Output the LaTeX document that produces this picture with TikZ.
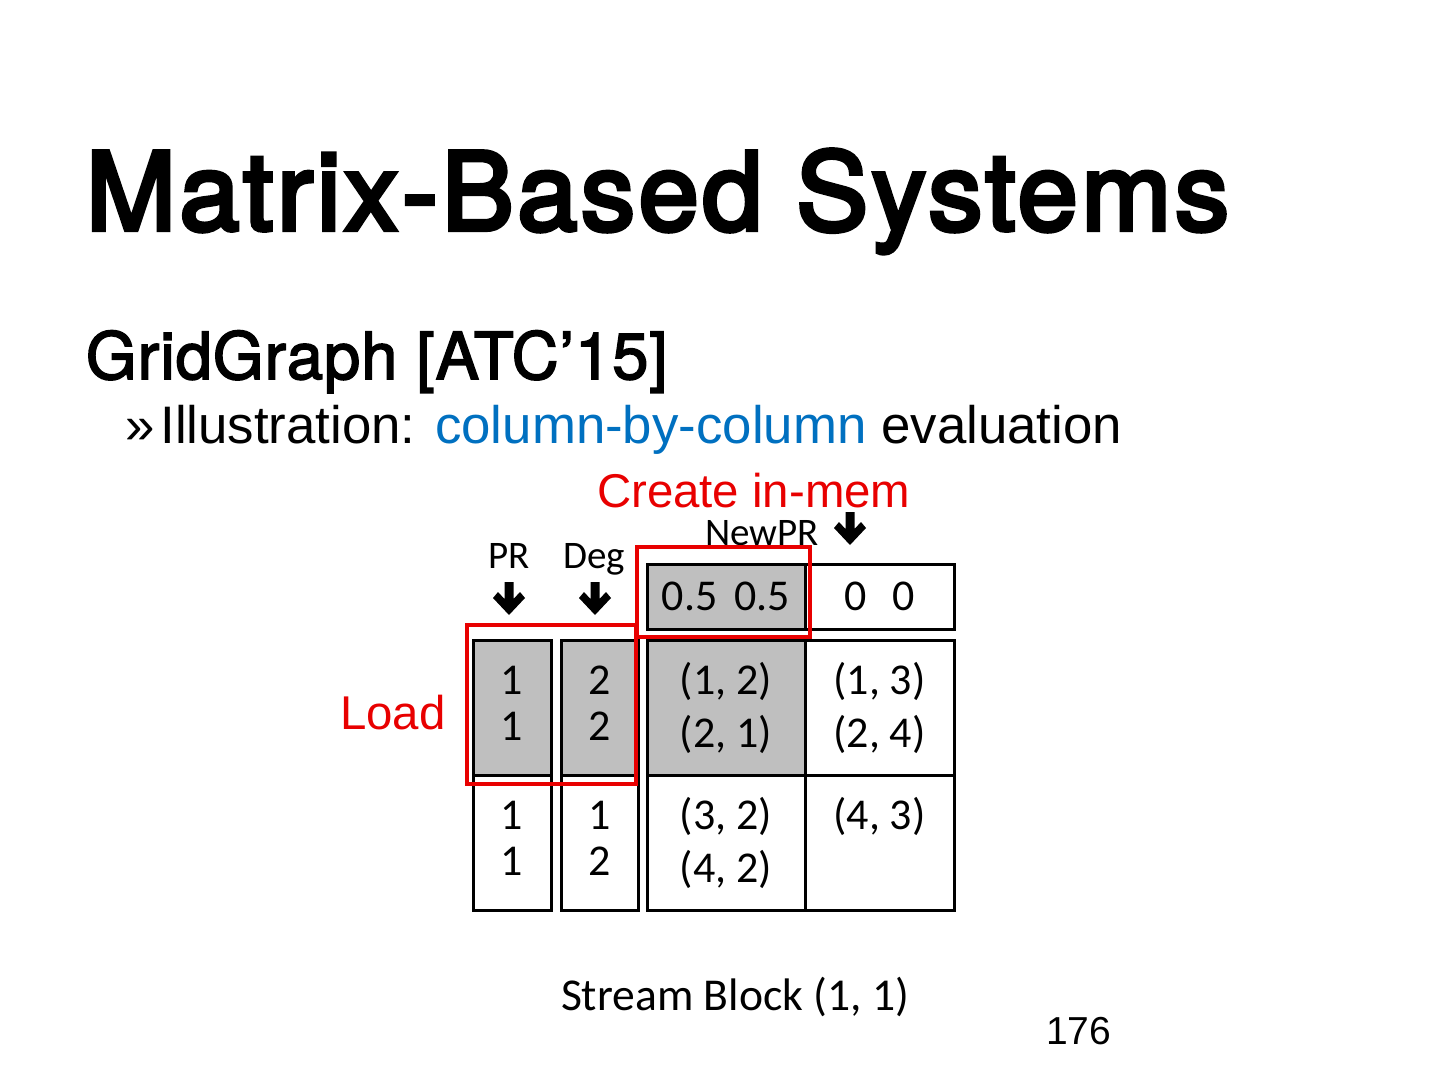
\documentclass[tikz,border=0pt]{standalone}
\usepackage{fontspec}
\setmainfont{Liberation Sans}
\newfontfamily\titlefont[FakeBold=4,LetterSpace=3.4]{TeX Gyre Heros}
\newfontfamily\subfont[FakeBold=2.5,LetterSpace=1.6]{TeX Gyre Heros}
\newfontfamily\calfont{Carlito}
\definecolor{slidered}{RGB}{232,0,0}
\definecolor{slideblue}{RGB}{0,112,192}
\definecolor{cellgray}{RGB}{191,191,191}
\tikzset{
  fatdown/.pic={\fill[black] (-4.5,0) -- (4.5,0) -- (4.5,17) -- (11,10) -- (16,16) -- (0,33) -- (-16,16) -- (-11,10) -- (-4.5,17) -- cycle;},
}
\begin{document}
\begin{tikzpicture}[x=0.5pt,y=-0.5pt,
  every node/.style={inner sep=0pt,outer sep=0pt},
  cell/.style={draw=black,line width=1.5pt,anchor=north west,align=center},
  vcol/.style={cell,minimum width=39pt,minimum height=67.5pt,font=\calfont\fontsize{22}{23}\selectfont},
  mcell/.style={cell,minimum height=67.5pt,font=\calfont\fontsize{22}{26.5}\selectfont},
  rcell/.style={cell,minimum height=32.5pt,font=\calfont\fontsize{22}{26}\selectfont},
  shaded/.style={fill=cellgray},
  hilite/.style={draw=slidered,line width=1.75pt},
  label/.style={font=\calfont\fontsize{19.5}{23}\selectfont,anchor=base},
  redtext/.style={font=\fontsize{23.7}{28}\selectfont,text=slidered,anchor=base west}
]
\useasboundingbox (0,0) rectangle (1440,1080);

% headings
\node[anchor=base west,font=\titlefont\fontsize{54}{60}\selectfont] (title) at (86,230) {Matrix-Based Systems};
\node[anchor=base west,font=\subfont\fontsize{32.5}{36}\selectfont] (sub) at (86,379) {GridGraph [ATC’15]};
\node[anchor=base west,font=\fontsize{26.4}{30}\selectfont] (bullet) at (125,444) {»\hspace{3pt}Illustration: \textcolor{slideblue}{column-by-column} evaluation};

% PR and Deg columns
\node[vcol,shaded] (pr1) at (473,640) {1\\1\vphantom{g}};
\node[vcol] (pr2) at (473,775) {1\\1\vphantom{g}};
\node[vcol,shaded,minimum width=38.5pt] (dg1) at (561,640) {2\\2\vphantom{g}};
\node[vcol,minimum width=38.5pt] (dg2) at (561,775) {1\\2\vphantom{g}};

% NewPR row
\node[rcell,shaded,minimum width=79pt] (np1) at (647,564) {0.5\hspace{8.5pt}0.5};
\node[rcell,minimum width=74.5pt] (np2) at (805,564) {0\hspace{13pt}0};

% main grid
\node[mcell,shaded,minimum width=79pt] (g11) at (647,640) {(1, 2)\\(2, 1)};
\node[mcell,minimum width=74.5pt] (g12) at (805,640) {(1, 3)\\(2, 4)};
\node[mcell,minimum width=79pt] (g21) at (647,775) {(3, 2)\\(4, 2)};
\node[mcell,minimum width=74.5pt] (g22) at (805,775) {(4, 3)\\\vphantom{(}};

% column labels and arrows
\node[label] (lpr) at (509,568) {PR};
\node[label] (ldeg) at (594,568) {Deg};
\node[label] (lnew) at (762,545) {NewPR};
\pic at (509,582) {fatdown};
\pic at (595,582) {fatdown};
\pic at (850,512) {fatdown};

% highlights
\draw[hilite] (467,625) rectangle (636,784);
\draw[hilite] (637,547) rectangle (810,637);
\node[redtext] (create) at (597,507) {Create in-mem};
\node[redtext] (load) at (340,729) {Load};

% captions
\node[font=\calfont\fontsize{22.8}{26}\selectfont,anchor=base west] (stream) at (561,1010) {Stream Block (1, 1)};
\node[anchor=base west,font=\fontsize{19.5}{22}\selectfont] (page) at (1046,1044) {176};
\end{tikzpicture}
\end{document}
